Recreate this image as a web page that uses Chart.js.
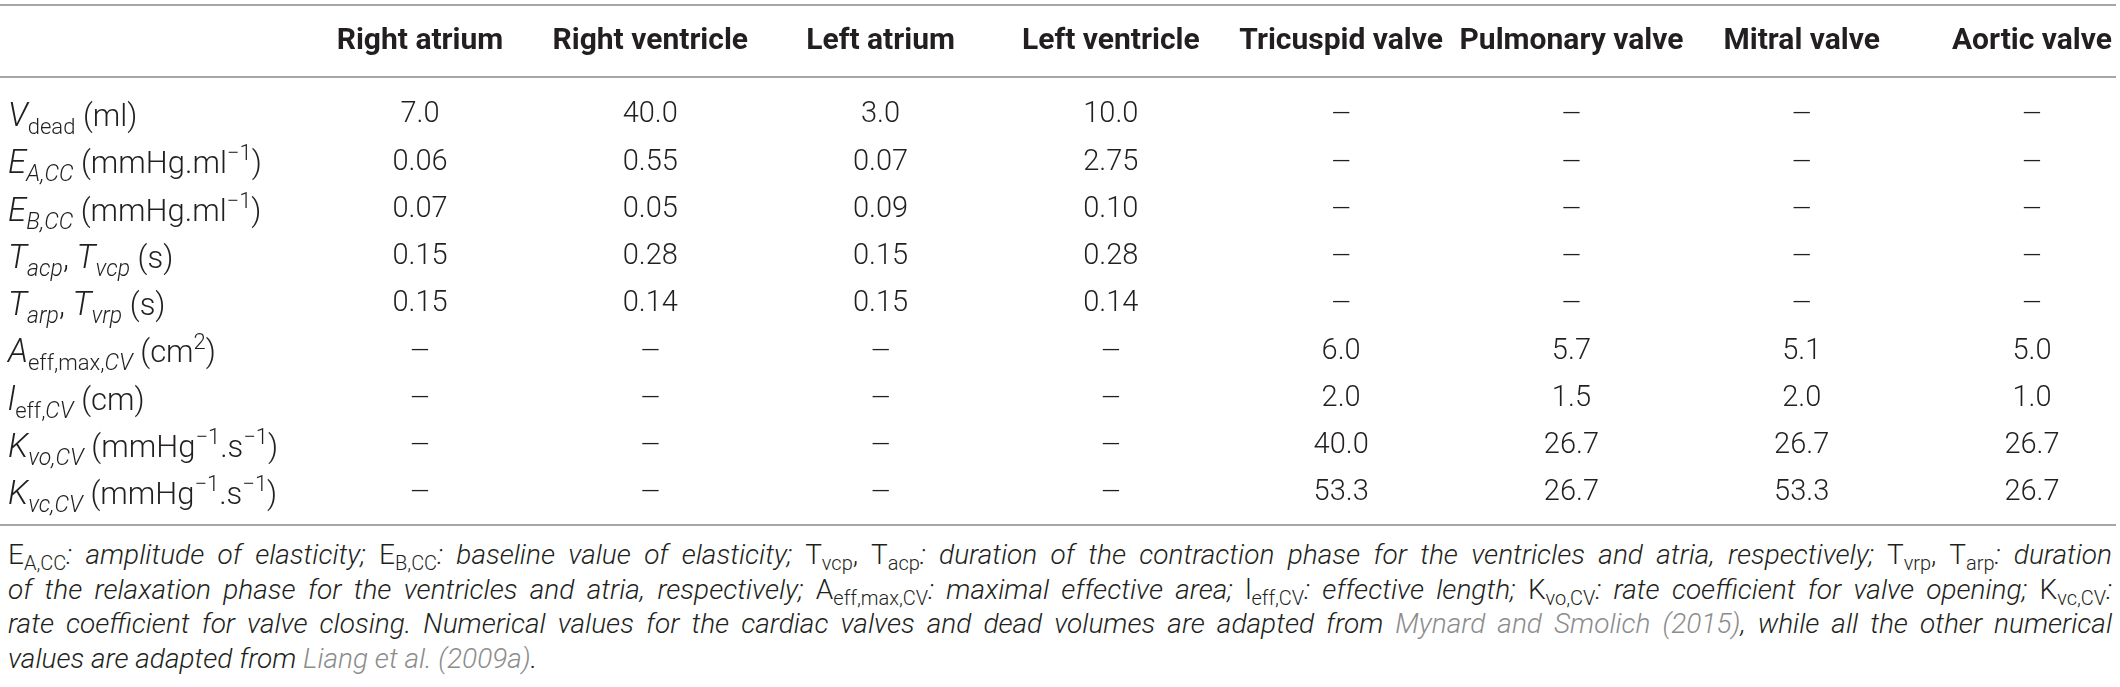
<!DOCTYPE html>
<html>
<head>
<meta charset="utf-8">
<script src="https://cdn.jsdelivr.net/npm/chart.js@4/dist/chart.umd.min.js"></script>
<style>
  html, body { margin: 0; padding: 0; background: #fff; }
  body { width: 2120px; height: 687px; position: relative; overflow: hidden; }
  #table { position: absolute; left: 0; top: 0; }
  .fn { position: absolute; left: 8px; top: 538px; width: 2104px;
        transform-origin: left top;
        font-family: Roboto, "Liberation Sans", sans-serif; font-weight: 300;
        font-size: 28px; line-height: 34.5px; color: #231f20; }
  .fn .ln { white-space: nowrap; height: 34.5px; }
  .fn i { font-style: italic; }
  .fn sub { font-size: 20px; vertical-align: -6px; line-height: 0; }
  .fn .link { color: #8c8c8c; }
</style>
</head>
<body>
<canvas id="table" width="2120" height="530"></canvas>

<div class="fn">
  <div class="ln j"><span class="in">E<sub>A,CC</sub><i>: amplitude of elasticity;</i> E<sub>B,CC</sub><i>: baseline value of elasticity;</i> T<sub>vcp</sub>, T<sub>acp</sub><i>: duration of the contraction phase for the ventricles and atria, respectively;</i> T<sub>vrp</sub>, T<sub>arp</sub><i>: duration</i></span></div>
  <div class="ln j"><span class="in"><i>of the relaxation phase for the ventricles and atria, respectively;</i> A<sub>eff,max,CV</sub><i>: maximal effective area;</i> l<sub>eff,CV</sub><i>: effective length;</i> K<sub>vo,CV</sub><i>: rate coefficient for valve opening;</i> K<sub>vc,CV</sub><i>:</i></span></div>
  <div class="ln j"><span class="in"><i>rate coefficient for valve closing. Numerical values for the cardiac valves and dead volumes are adapted from <span class="link">Mynard and Smolich (2015)</span>, while all the other numerical</i></span></div>
  <div class="ln"><span class="in"><i>values are adapted from <span class="link">Liang et al. (2009a)</span>.</i></span></div>
</div>

<script>
// ── Table data ────────────────────────────────────────────────────────────────
const columns = [
  "Right atrium", "Right ventricle", "Left atrium", "Left ventricle",
  "Tricuspid valve", "Pulmonary valve", "Mitral valve", "Aortic valve",
];

const rowKeys = ["Vdead", "EA", "EB", "Tcp", "Trp", "Aeff", "leff", "Kvo", "Kvc"];

// row labels as rich text runs: [text, style]
const rowLabels = [
  [["V", "i"], ["dead", "sub"], [" (ml)", ""]],
  [["E", "i"], ["A,CC", "isub"], [" (mmHg.ml", ""], ["−1", "sup"], [")", ""]],
  [["E", "i"], ["B,CC", "isub"], [" (mmHg.ml", ""], ["−1", "sup"], [")", ""]],
  [["T", "i"], ["acp", "isub"], [", ", ""], ["T", "i"], ["vcp", "isub"], [" (s)", ""]],
  [["T", "i"], ["arp", "isub"], [", ", ""], ["T", "i"], ["vrp", "isub"], [" (s)", ""]],
  [["A", "i"], ["eff,max,", "sub"], ["CV", "isub"], [" (cm", ""], ["2", "sup"], [")", ""]],
  [["l", "i"], ["eff,", "sub"], ["CV", "isub"], [" (cm)", ""]],
  [["K", "i"], ["vo,CV", "isub"], [" (mmHg", ""], ["−1", "sup"], [".s", ""], ["−1", "sup"], [")", ""]],
  [["K", "i"], ["vc,CV", "isub"], [" (mmHg", ""], ["−1", "sup"], [".s", ""], ["−1", "sup"], [")", ""]],
];

// values per column, top row first (null = not applicable)
const rightAtrium    = ["7.0", "0.06", "0.07", "0.15", "0.15", null, null, null, null];
const rightVentricle = ["40.0", "0.55", "0.05", "0.28", "0.14", null, null, null, null];
const leftAtrium     = ["3.0", "0.07", "0.09", "0.15", "0.15", null, null, null, null];
const leftVentricle  = ["10.0", "2.75", "0.10", "0.28", "0.14", null, null, null, null];
const tricuspidValve = [null, null, null, null, null, "6.0", "2.0", "40.0", "53.3"];
const pulmonaryValve = [null, null, null, null, null, "5.7", "1.5", "26.7", "26.7"];
const mitralValve    = [null, null, null, null, null, "5.1", "2.0", "26.7", "53.3"];
const aorticValve    = [null, null, null, null, null, "5.0", "1.0", "26.7", "26.7"];

const columnValues = [
  rightAtrium, rightVentricle, leftAtrium, leftVentricle,
  tricuspidValve, pulmonaryValve, mitralValve, aorticValve,
];

// ── Drawing helpers ───────────────────────────────────────────────────────────
const INK  = "#231f20";
const RULE = "#a6a6a6";
const FAM  = "Roboto, 'Liberation Sans', sans-serif";

function drawRich(ctx, runs, x, yMid) {
  const base = yMid + 11;
  ctx.textAlign = "left";
  ctx.textBaseline = "alphabetic";
  for (const [t, s] of runs) {
    let dy = 0;
    if (s === "i")         ctx.font = `italic 300 33px ${FAM}`;
    else if (s === "sub")  { ctx.font = `300 22px ${FAM}`; dy = 8; }
    else if (s === "isub") { ctx.font = `italic 300 23px ${FAM}`; dy = 8; }
    else if (s === "sup")  { ctx.font = `300 22px ${FAM}`; dy = -13; }
    else                   ctx.font = `300 31px ${FAM}`;
    ctx.fillText(t, x, base + dy);
    x += ctx.measureText(t).width;
  }
}

const tablePlugin = {
  id: "tableText",
  afterDatasetsDraw(chart) {
    const { ctx, chartArea: area, scales } = chart;
    ctx.save();
    ctx.fillStyle = INK;

    // rules
    ctx.strokeStyle = RULE;
    ctx.lineWidth = 2;
    [area.top - 110, area.top - 38, area.bottom + 32].forEach(y => {
      ctx.beginPath(); ctx.moveTo(0, y); ctx.lineTo(chart.width - 4, y); ctx.stroke();
    });

    // column headers
    ctx.font = `bold 30px ${FAM}`;
    ctx.textAlign = "center";
    ctx.textBaseline = "middle";
    columns.forEach((c, i) => ctx.fillText(c, scales.x.getPixelForValue(i), area.top - 74));

    // row labels
    rowLabels.forEach((runs, j) => drawRich(ctx, runs, 8, scales.y.getPixelForValue(j)));

    // cells
    ctx.textAlign = "center";
    ctx.textBaseline = "middle";
    chart.data.datasets.forEach((ds, di) => {
      chart.getDatasetMeta(di).data.forEach((pt, k) => {
        const v = ds.data[k].v;
        if (v == null) {
          ctx.font = `300 25px ${FAM}`;
          ctx.fillText("—", pt.x, pt.y + 1);
        } else {
          ctx.font = `300 29px ${FAM}`;
          ctx.fillText(v, pt.x, pt.y);
        }
      });
    });
    ctx.restore();
  },
};

// ── Chart ─────────────────────────────────────────────────────────────────────
const datasets = columns.map((c, i) => ({
  label: c,
  data: rowKeys.map((r, j) => ({ x: c, y: r, v: columnValues[i][j] })),
  pointRadius: 0,
  pointHoverRadius: 0,
}));

new Chart(document.getElementById("table"), {
  type: "scatter",
  data: { datasets },
  options: {
    responsive: false,
    animation: false,
    devicePixelRatio: 1,
    layout: { padding: { left: 420, right: 88, top: 115, bottom: 37 } },
    scales: {
      x: { type: "category", labels: columns, offset: false, display: false },
      y: { type: "category", labels: rowKeys, offset: false, display: false },
    },
    plugins: { legend: { display: false }, tooltip: { enabled: false } },
  },
  plugins: [tablePlugin],
});

// ── Footnote: squeeze to a condensed look, then justify full lines ────────────
document.fonts.ready.then(() => {
  const W = 2104;
  const fn = document.querySelector(".fn");
  const lines = [...fn.querySelectorAll(".ln")];
  const maxW = Math.max(...lines.map(ln => ln.querySelector(".in").getBoundingClientRect().width));
  const s = Math.min(1, W / maxW);
  fn.style.width = (W / s) + "px";
  fn.style.transform = `scaleX(${s})`;
  lines.forEach(ln => {
    if (ln.classList.contains("j")) {
      ln.style.whiteSpace = "normal";
      ln.style.textAlign = "justify";
      ln.style.textAlignLast = "justify";
    }
  });
});
</script>
</body>
</html>
